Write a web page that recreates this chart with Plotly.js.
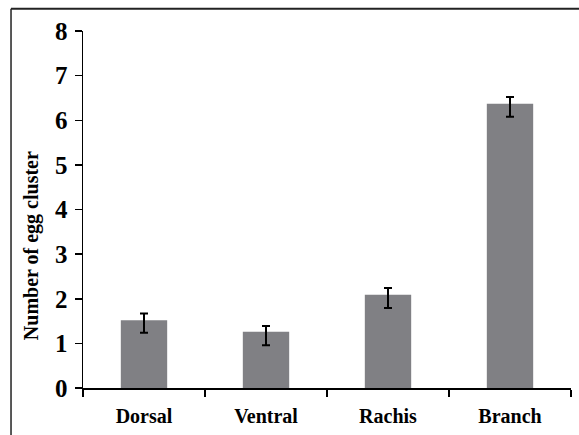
<!DOCTYPE html>
<html>
<head>
<meta charset="utf-8">
<script src="https://cdn.plot.ly/plotly-3.0.1.min.js"></script>
<style>html,body{margin:0;padding:0;background:#fff;}#chart{width:579px;height:435px;}</style>
</head>
<body>
<div id="chart"></div>
<script>
const categories = ['Dorsal', 'Ventral', 'Rachis', 'Branch'];
const meanValues = [1.52, 1.26, 2.09, 6.37];
const errorPlus = [0.15, 0.13, 0.15, 0.15];
const errorMinus = [0.28, 0.30, 0.30, 0.29];
const yTickValues = [0, 1, 2, 3, 4, 5, 6, 7, 8];
const yAxisTitle = 'Number of egg cluster';

const serif = '"Liberation Serif", "Times New Roman", Times, serif';

const trace = {
  type: 'bar',
  x: categories,
  y: meanValues,
  marker: { color: '#808084' },
  error_y: {
    type: 'data',
    symmetric: false,
    array: errorPlus,
    arrayminus: errorMinus,
    color: '#000',
    thickness: 2,
    width: 4
  },
  hoverinfo: 'skip'
};

const layout = {
  width: 579,
  height: 435,
  margin: { l: 83, r: 8, t: 31, b: 47, pad: 0 },
  paper_bgcolor: '#fff',
  plot_bgcolor: '#fff',
  showlegend: false,
  bargap: 0.62,
  xaxis: {
    type: 'category',
    tickson: 'boundaries',
    ticks: 'outside',
    ticklen: 7,
    tickwidth: 1.5,
    tickcolor: '#000',
    showline: true,
    linecolor: '#000',
    linewidth: 1.5,
    showgrid: false,
    zeroline: false,
    tickfont: { family: serif, size: 20, color: '#000', weight: 'bold' },
    ticklabelstandoff: 9
  },
  yaxis: {
    range: [0, 8],
    tickvals: yTickValues,
    ticks: 'outside',
    ticklen: 7,
    tickwidth: 1.5,
    tickcolor: '#000',
    showline: true,
    linecolor: '#000',
    linewidth: 1.5,
    showgrid: false,
    zeroline: false,
    tickfont: { family: serif, size: 25, color: '#000', weight: 'bold' },
    ticklabelstandoff: 2
  },
  annotations: [{
    text: yAxisTitle,
    xref: 'paper', yref: 'paper',
    x: -0.1066, y: 0.40,
    xanchor: 'center', yanchor: 'middle',
    textangle: -90,
    showarrow: false,
    font: { family: serif, size: 20, color: '#000', weight: 'bold' }
  }],
  shapes: [
    { type: 'line', xref: 'paper', yref: 'paper', x0: -0.1475, x1: 1.02, y0: 1.062, y1: 1.062,
      line: { color: '#222', width: 2 } },
    { type: 'line', xref: 'paper', yref: 'paper', x0: -0.1475, x1: -0.1475, y0: 1.062, y1: -0.2,
      line: { color: '#222', width: 1.5 } }
  ]
};

Plotly.newPlot('chart', [trace], layout, { displayModeBar: false, staticPlot: true });
</script>
</body>
</html>
